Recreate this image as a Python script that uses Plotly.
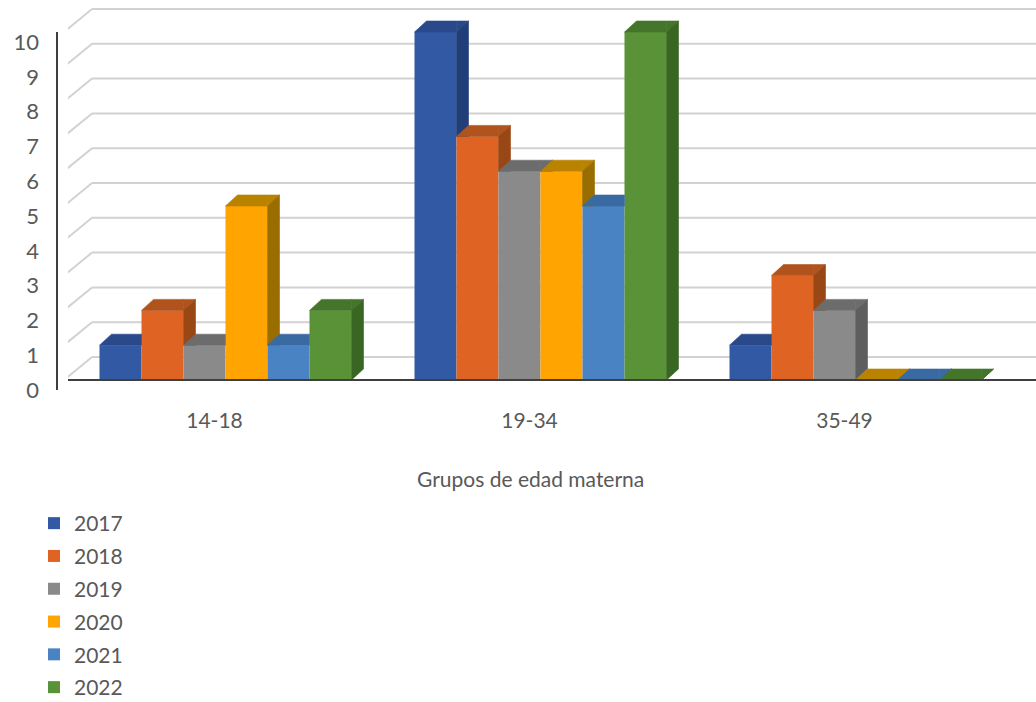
import plotly.graph_objects as go

# ---- data ----
categories = ["14-18", "19-34", "35-49"]
years = ["2017", "2018", "2019", "2020", "2021", "2022"]
v2017 = [1, 10, 1]
v2018 = [2, 7, 3]
v2019 = [1, 6, 2]
v2020 = [5, 6, 0]
v2021 = [1, 5, 0]
v2022 = [2, 10, 0]
series = [v2017, v2018, v2019, v2020, v2021, v2022]
y_ticks = list(range(0, 11))
x_title = "Grupos de edad materna"

# ---- styles ----
front_colors = ["#3259A3", "#DF6424", "#8A8A8A", "#FFA400", "#4A83C3", "#5A9237"]
top_colors = ["#29498A", "#B0531C", "#6C6C6C", "#B98300", "#3A6AA2", "#44752A"]
side_colors = ["#213E78", "#9A4716", "#5E5E5E", "#9A6D00", "#305A8C", "#3A6623"]
text_color = "#595959"
font_family = "Lato, 'Open Sans', sans-serif"

# ---- geometry (pixels) ----
W, H = 1036, 702
ml, mr, mt, mb = 57, 0, 5, 312
plot_w = W - ml - mr
plot_h = H - mt - mb
front_left = 11                 # px inside plot area where the front plane starts
px_per_cat = 315.0
px_per_unit = 34.8
base_px = 380 - mt              # y (from top of plot area) of value 0
x_range = [-0.5, -0.5 + (plot_w - front_left) / px_per_cat]
y_range = [-(plot_h - base_px) / px_per_unit, base_px / px_per_unit]

bdx, bdy = 12 / px_per_cat, 11 / px_per_unit      # bar depth
wdx, wdy = 24 / px_per_cat, 23 / px_per_unit      # wall depth

n = len(series)
bargap = 0.2
bw = (1 - bargap) / n


def clip_above(poly, h):
    """Keep part of convex polygon with y >= h."""
    out = []
    m = len(poly)
    for k in range(m):
        p, q = poly[k], poly[(k + 1) % m]
        pin, qin = p[1] >= h, q[1] >= h
        if pin:
            out.append(p)
        if pin != qin:
            t = (h - p[1]) / (q[1] - p[1])
            out.append((p[0] + t * (q[0] - p[0]), h))
    return out


fig = go.Figure()

# front faces as real bars
for i, (yr, vals) in enumerate(zip(years, series)):
    fig.add_trace(go.Bar(
        x=list(range(len(categories))), y=vals, name=yr,
        marker=dict(color=front_colors[i], line=dict(width=0)),
        legendgroup=yr, hoverinfo="x+y+name",
    ))


def add_poly(poly, color):
    if len(poly) < 3:
        return
    xs = [p[0] for p in poly] + [poly[0][0]]
    ys = [p[1] for p in poly] + [poly[0][1]]
    fig.add_trace(go.Scatter(
        x=xs, y=ys, mode="lines", fill="toself", fillcolor=color,
        line=dict(width=0.6, color=color), showlegend=False, hoverinfo="skip",
    ))


# 3D top and side faces
for g in range(len(categories)):
    for i in range(n):
        v = series[i][g]
        xl = g - (1 - bargap) / 2 + i * bw
        xr = xl + bw
        h = series[i + 1][g] if i + 1 < n else None
        top_left = [(xl, v), (xr, v), (xr, v + bdy), (xl + bdx, v + bdy)]
        top_right = [(xr, v), (xr + bdx, v + bdy), (xr, v + bdy)]
        side = [(xr, 0), (xr, v), (xr + bdx, v + bdy), (xr + bdx, bdy)]
        if h is not None and h > 0:
            top_right = clip_above(top_right, h)
            side = clip_above(side, h)
        add_poly(top_left, top_colors[i])
        add_poly(top_right, top_colors[i])
        add_poly(side, side_colors[i])

# gridlines (back wall + left wall diagonals)
shapes = []
for t in y_ticks:
    shapes.append(dict(type="line", xref="x", yref="y",
                       x0=x_range[0] + wdx, x1=x_range[1], y0=t + wdy, y1=t + wdy,
                       line=dict(color="#D2D2D2", width=2), layer="below"))
    shapes.append(dict(type="line", xref="x", yref="y",
                       x0=x_range[0] - 4 / px_per_cat, x1=x_range[0] + wdx, y0=t, y1=t + wdy,
                       line=dict(color="#D2D2D2", width=2), layer="below"))
# floor front edge
shapes.append(dict(type="line", xref="x", yref="y", x0=x_range[0], x1=x_range[1],
                   y0=0, y1=0, line=dict(color="#3F3F3F", width=2), layer="above"))
# vertical value axis line
shapes.append(dict(type="line", xref="paper", yref="y", x0=0, x1=0,
                   y0=y_range[0], y1=y_ticks[-1], line=dict(color="#3F3F3F", width=2)))

fig.update_layout(
    width=W, height=H,
    margin=dict(l=ml, r=mr, t=mt, b=mb, pad=0, autoexpand=False),
    paper_bgcolor="white", plot_bgcolor="white",
    barmode="group", bargap=bargap, bargroupgap=0,
    shapes=shapes,
    font=dict(family=font_family, color=text_color, size=21),
    xaxis=dict(domain=[front_left / plot_w, 1], range=x_range,
               tickvals=list(range(len(categories))), ticktext=categories,
               showgrid=False, zeroline=False, showline=False, ticks="",
               ticklabelstandoff=16, ticklabelshift=-11,
               tickfont=dict(size=21, color=text_color)),
    yaxis=dict(range=y_range, anchor="free", position=0,
               tickvals=y_ticks, showgrid=False, zeroline=False, showline=False,
               ticks="", ticklabelstandoff=18, ticklabelshift=10,
               tickfont=dict(size=22, color=text_color)),
    legend=dict(x=(34 - ml) / plot_w, xanchor="left",
                y=(plot_h + mt - 503) / plot_h,
                yanchor="top", tracegroupgap=2.5, bgcolor="rgba(0,0,0,0)",
                font=dict(size=21, color=text_color)),
    annotations=[dict(text=x_title, xref="paper", yref="paper",
                      x=(530 - ml) / plot_w, y=(plot_h + mt - 478) / plot_h,
                      xanchor="center", yanchor="middle", showarrow=False,
                      font=dict(size=21, color=text_color))],
)

fig.write_html("out.html")
